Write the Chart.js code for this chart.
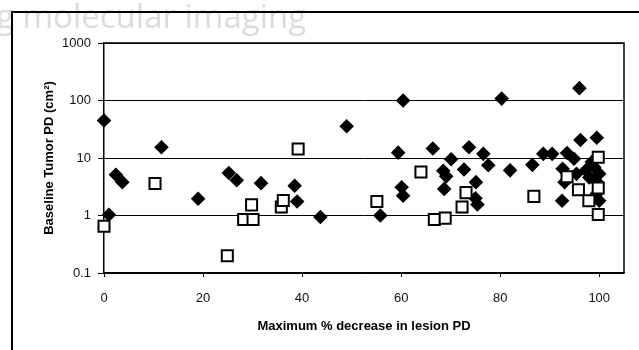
<!DOCTYPE html>
<html>
<head>
<meta charset="utf-8">
<script src="https://cdn.jsdelivr.net/npm/chart.js@4.4.1/dist/chart.umd.min.js"></script>
<style>
  html, body { margin: 0; padding: 0; background: #fff; }
  #wrap { position: relative; width: 639px; height: 350px; }
</style>
</head>
<body>
<div id="wrap"><canvas id="c" width="639" height="350"></canvas></div>
<script>
// ---- data ----
const xTickValues = [0, 20, 40, 60, 80, 100];
const yTickValues = [0.1, 1, 10, 100, 1000];

// filled diamonds
const diamondX = [0, 1, 2.4, 3.7, 11.6, 19, 25.2, 26.8, 31.7, 38.5, 39, 43.7, 49, 55.8,
  59.4, 60.1, 60.4, 60.4, 66.4, 68.5, 69.1, 68.7, 70.1, 72.7, 73.7, 75.1, 75, 75.4,
  76.6, 77.6, 80.3, 82, 86.5, 88.7, 90.5, 92.5, 92.6, 93.0, 93.5, 94.9, 95.4, 96,
  96.2, 97.3, 98, 99, 99.5, 99.5, 100, 100, 98.5, 99.7];
const diamondY = [45, 1.03, 5.1, 3.8, 15.4, 1.95, 5.5, 4.1, 3.65, 3.3, 1.75, 0.94, 35.7, 1.0,
  12.4, 3.1, 2.2, 100, 14.6, 6.0, 4.8, 2.9, 9.5, 6.3, 15.4, 3.8, 2.0, 1.55,
  11.8, 7.5, 108, 6.1, 7.6, 11.8, 11.8, 1.8, 6.5, 3.8, 12.2, 9.7, 5.3, 164,
  20.5, 6.1, 4.6, 6.9, 22.5, 2.4, 5.3, 1.8, 8.5, 3.7];

// open squares
const squareX = [0, 10.3, 24.9, 28.2, 29.8, 30.1, 35.8, 36.2, 39.2, 55.1, 64, 66.7, 68.9,
  72.3, 73.1, 86.8, 93.5, 95.8, 97.9, 99.8, 99.8, 99.8];
const squareY = [0.65, 3.6, 0.2, 0.85, 1.53, 0.85, 1.4, 1.83, 14.4, 1.75, 5.7, 0.85, 0.9,
  1.4, 2.5, 2.15, 4.7, 2.8, 1.8, 10.3, 3.0, 1.04];

const xTitle = 'Maximum % decrease in lesion PD';
const yTitle = 'Baseline Tumor PD (cm\u00B2)';
const watermark = 'g molecular imaging';

const toPoints = (xs, ys) => xs.map((x, i) => ({ x: x, y: ys[i] }));

const framePlugin = {
  id: 'frame',
  beforeDraw(chart) {
    const ctx = chart.ctx;
    ctx.save();
    ctx.fillStyle = '#ffffff';
    ctx.fillRect(0, 0, chart.width, chart.height);
    ctx.font = '33px "Open Sans", "DejaVu Sans", sans-serif';
    ctx.fillStyle = '#dcdcdc';
    ctx.textBaseline = 'alphabetic';
    ctx.fillText(watermark, -4, 28);
    ctx.strokeStyle = '#000';
    ctx.lineWidth = 2;
    ctx.beginPath();
    ctx.moveTo(12, chart.height + 2);
    ctx.lineTo(12, 12);
    ctx.lineTo(chart.width + 2, 12);
    ctx.stroke();
    ctx.restore();
  },
  afterDraw(chart) {
    const a = chart.chartArea;
    const ctx = chart.ctx;
    ctx.save();
    ctx.strokeStyle = '#000';
    ctx.lineWidth = 1.5;
    ctx.beginPath();
    ctx.moveTo(a.left, a.top);
    ctx.lineTo(a.right, a.top);
    ctx.lineTo(a.right, a.bottom);
    ctx.stroke();
    ctx.restore();
  }
};

new Chart(document.getElementById('c'), {
  type: 'scatter',
  data: {
    datasets: [
      {
        label: 'open',
        data: toPoints(squareX, squareY),
        pointStyle: 'rect',
        pointRadius: 7.8,
        pointHoverRadius: 7.8,
        backgroundColor: '#ffffff',
        borderColor: '#000000',
        borderWidth: 2,
        clip: false
      },
      {
        label: 'filled',
        data: toPoints(diamondX, diamondY),
        pointStyle: 'rectRot',
        pointRadius: 7.3,
        pointHoverRadius: 7.3,
        backgroundColor: '#000000',
        borderColor: '#000000',
        borderWidth: 0,
        clip: false
      }
    ]
  },
  options: {
    responsive: false,
    animation: false,
    events: [],
    layout: { padding: { left: 0, top: 43, right: 15, bottom: 0 } },
    plugins: { legend: { display: false }, tooltip: { enabled: false } },
    scales: {
      x: {
        type: 'linear',
        min: 0,
        max: 105,
        afterBuildTicks: (s) => { s.ticks = xTickValues.map(v => ({ value: v })); },
        afterFit: (s) => { s.height = 77; },
        ticks: {
          color: '#111',
          padding: 14,
          maxRotation: 0,
          font: { family: '"Liberation Sans", Arial, sans-serif', size: 13 }
        },
        grid: { drawOnChartArea: false, drawTicks: true, tickLength: 4, color: '#000', lineWidth: 1 },
        border: { color: '#000', width: 1.5 },
        title: {
          display: true,
          text: xTitle,
          color: '#000',
          padding: { top: 0, bottom: 16 },
          font: { family: '"Liberation Sans", Arial, sans-serif', size: 13, weight: 'bold' }
        }
      },
      y: {
        type: 'logarithmic',
        min: 0.1,
        max: 1000,
        afterBuildTicks: (s) => { s.ticks = yTickValues.map(v => ({ value: v })); },
        afterFit: (s) => { s.width = 104; },
        ticks: {
          color: '#111',
          padding: 7,
          font: { family: '"Liberation Sans", Arial, sans-serif', size: 13 },
          callback: (v) => String(v)
        },
        grid: { drawOnChartArea: true, drawTicks: true, tickLength: 6, color: '#000', lineWidth: 1 },
        border: { color: '#000', width: 1.5 },
        title: {
          display: true,
          text: yTitle,
          color: '#000',
          padding: { top: 42, bottom: 0 },
          font: { family: '"Liberation Sans", Arial, sans-serif', size: 13, weight: 'bold' }
        }
      }
    }
  },
  plugins: [framePlugin]
});
</script>
</body>
</html>
